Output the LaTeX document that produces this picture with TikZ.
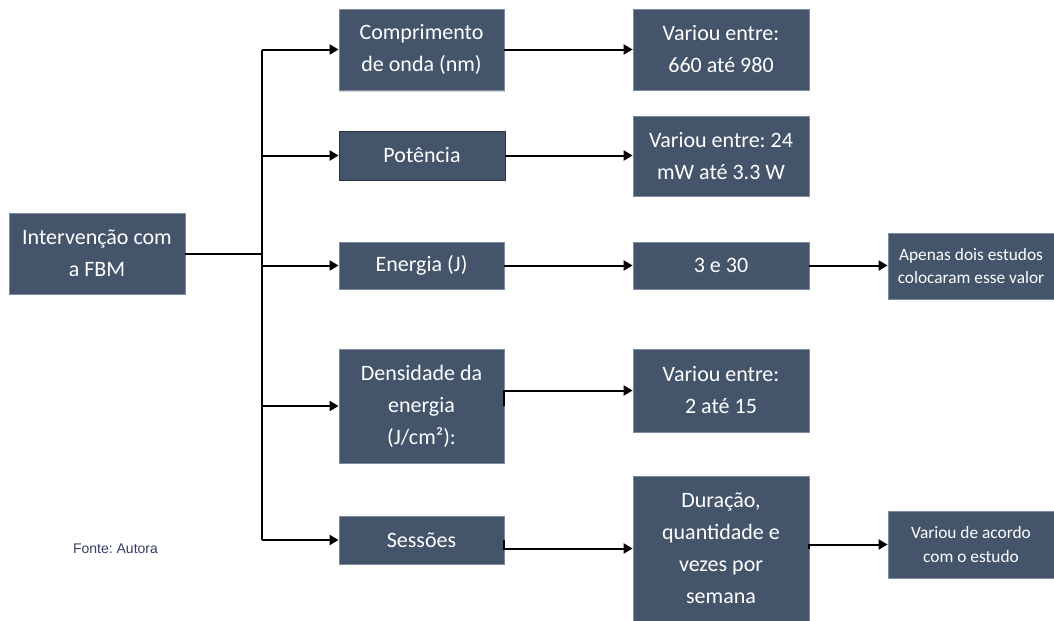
\documentclass[tikz,border=0pt]{standalone}
\usepackage{fontspec}
\setmainfont{Carlito}
\newfontfamily\arialf{Liberation Sans}
\usetikzlibrary{arrows.meta,shadows}
\definecolor{boxfill}{RGB}{68,84,106}
\definecolor{boxedge}{RGB}{125,140,160}
\definecolor{boxdark}{RGB}{40,52,72}
\definecolor{fontecol}{RGB}{55,60,100}
\frenchspacing
\begin{document}
\frenchspacing
\begin{tikzpicture}[x=0.75pt,y=-0.75pt,
  box/.style={draw=boxedge, line width=0.6pt, fill=boxfill, text=white, align=center, inner sep=0pt,
    font=\frenchspacing\fontsize{16.5}{24}\selectfont},
  smallbox/.style={box, font=\frenchspacing\fontsize{13}{17.5}\selectfont},
  arr/.style={-{Triangle[length=6.75pt,width=7.5pt]}, line width=1.5pt},
  conn/.style={line width=1.5pt}]
\useasboundingbox (0,0) rectangle (1054,621);

% left box
\node[box, minimum width=132pt, minimum height=60.75pt] (I) at (97,253.5) {Intervenção com\\a FBM};

% middle column
\node[box, minimum width=123.75pt, minimum height=60.75pt,
  drop shadow={opacity=0.35, shadow xshift=1pt, shadow yshift=-1.5pt}] (C) at (421.5,49.5) {Comprimento\\de onda (nm)};
\node[box, draw=boxdark, minimum width=124.5pt, minimum height=36.75pt] (P) at (422,155.5) {Potência};
\node[box, minimum width=123.75pt, minimum height=35.25pt] (E) at (421.5,265.5) {Energia (J)};
\node[box, minimum width=123.75pt, minimum height=85.5pt] (D) at (421.5,406) {Densidade da\\energia\\(J/cm²):};
\node[box, minimum width=123.75pt, minimum height=36pt] (S) at (421.5,540) {Sessões};

% right column
\node[box, minimum width=132pt, minimum height=60.75pt] (V1) at (721,49.5) {Variou entre:\\660 até 980};
\node[box, minimum width=132pt, minimum height=60pt] (V2) at (721,156) {Variou entre: 24\\mW até 3.3 W};
\node[box, minimum width=132pt, minimum height=35.25pt] (V3) at (721,265.5) {3 e 30};
\node[box, minimum width=132pt, minimum height=62.25pt] (V4) at (721,390.5) {Variou entre:\\2 até 15};
\node[box, minimum width=132pt, minimum height=108.75pt] (V5) at (721,548.5) {Duração,\\quantidade e\\vezes por\\semana};

% far right
\node[smallbox, minimum width=124.5pt, minimum height=49.5pt] (A) at (971,266) {Apenas dois estudos\\colocaram esse valor};
\node[smallbox, minimum width=124.5pt, minimum height=50.25pt] (W) at (971,544.5) {Variou de acordo\\com o estudo};

% source
\node[text=fontecol, font=\arialf\frenchspacing\fontsize{10.5}{12}\selectfont, inner sep=0pt] (F) at (115.5,549) {Fonte: Autora};

% trunk
\coordinate (t1) at (262,49.5);
\coordinate (t5) at (262,540);
\draw[conn] (I.east) -- (I.east -| t1);
\draw[conn] (t1) -- (t5);
\draw[arr] (t1) -- (C.west);
\draw[arr] (P.west -| t1) -- (P.west);
\draw[arr] (E.west -| t1) -- (E.west);
\draw[arr] (D.west -| t1) -- (D.west);
\draw[arr] (t5) -- (S.west);

% second level
\draw[arr] (C.east) -- (V1.west);
\draw[arr] (P.east) -- (P.east -| V2.west);
\draw[arr] (E.east) -- (V3.west);
\draw[arr] (D.east) |- (V4.west);
\draw[arr] (S.east) |- (V5.west);

% third level
\draw[arr] (V3.east) -- (V3.east -| A.west);
\draw[arr] (V5.east) |- (W.west);
\end{tikzpicture}
\end{document}
